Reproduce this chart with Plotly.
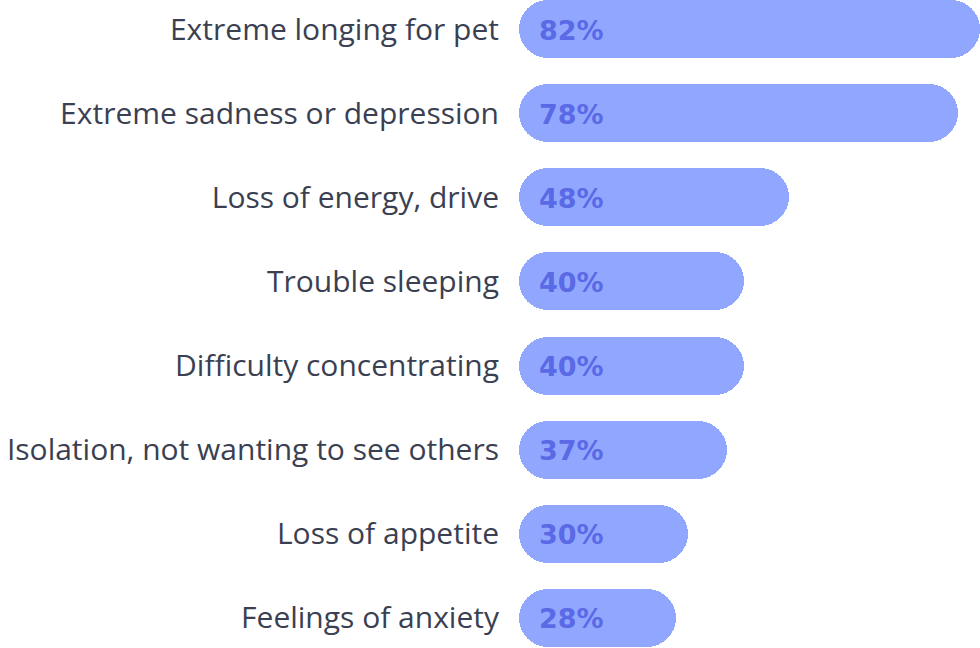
import plotly.graph_objects as go

categories = [
    "Extreme longing for pet",
    "Extreme sadness or depression",
    "Loss of energy, drive",
    "Trouble sleeping",
    "Difficulty concentrating",
    "Isolation, not wanting to see others",
    "Loss of appetite",
    "Feelings of anxiety",
]
values = [82, 78, 48, 40, 40, 37, 30, 28]
value_labels = [f"{v}%" for v in values]

BAR_COLOR = "#91A7FF"
PCT_COLOR = "#5A69E6"
LABEL_COLOR = "#3B3F52"

fig = go.Figure()
fig.add_trace(go.Bar(
    y=categories, x=values, base=[0] * len(values), orientation="h",
    marker=dict(color=BAR_COLOR, cornerradius="50%", line=dict(width=0)),
    width=0.69, hoverinfo="skip", showlegend=False,
))

for cat, lab in zip(categories, value_labels):
    fig.add_annotation(
        x=0, y=cat, text=f"<b>{lab}</b>", showarrow=False,
        xanchor="left", yanchor="middle", xshift=18, yshift=-1,
        font=dict(family="DejaVu Sans", size=27, color=PCT_COLOR),
    )

fig.update_layout(
    width=980, height=648,
    margin=dict(l=519, r=0, t=0, b=0),
    paper_bgcolor="white", plot_bgcolor="white",
    barmode="overlay",
    bargap=0,
    xaxis=dict(range=[0, 82], visible=False, fixedrange=True),
    yaxis=dict(
        type="category", categoryorder="array", categoryarray=categories,
        range=[7.357, -0.345], showgrid=False, zeroline=False, showline=False,
        ticks="", ticklabelstandoff=19, fixedrange=True,
        tickfont=dict(family="Open Sans", size=30, color=LABEL_COLOR),
    ),
    showlegend=False,
)

fig.write_html(
    "out.html",
    config={"displayModeBar": False},
    post_script="document.body.style.margin='0';document.body.style.overflow='hidden';",
)
